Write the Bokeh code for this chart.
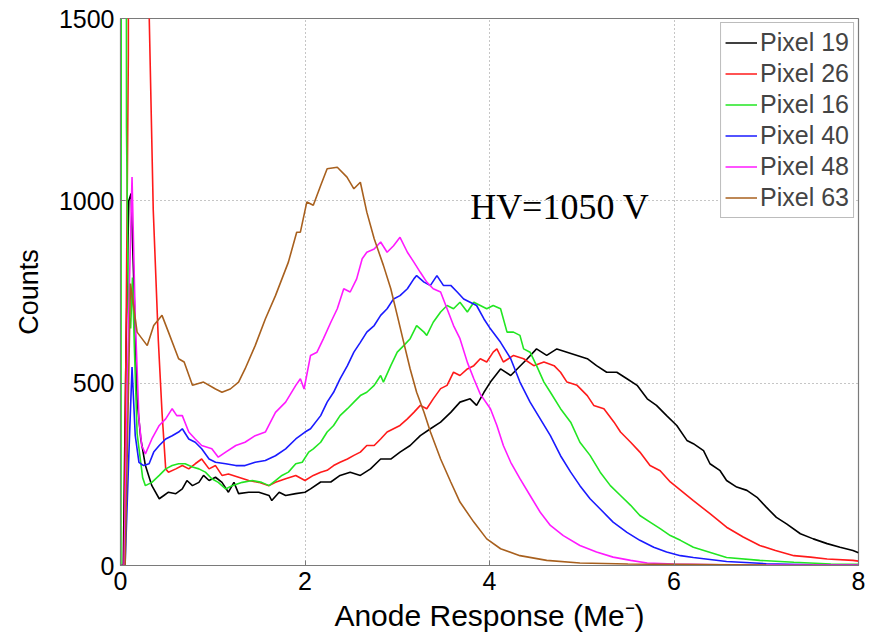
from bokeh.plotting import figure
from bokeh.models import Range1d, Label, FixedTicker, Legend, LegendItem
from bokeh.embed import file_html
from bokeh.resources import INLINE

# ---------------- data ----------------
series_names = ["Pixel 19", "Pixel 26", "Pixel 16", "Pixel 40", "Pixel 48", "Pixel 63"]
series_colors = ["#000000", "#ff1a1a", "#22e622", "#1a1aff", "#ff1aff", "#a8601e"]

px19_x = [0.0, 0.03, 0.06, 0.09, 0.115, 0.15, 0.18, 0.22, 0.27, 0.34, 0.42, 0.47, 0.52, 0.60, 0.67, 0.72,
          0.78, 0.85, 0.90, 0.96, 1.03, 1.10, 1.17, 1.23, 1.28, 1.39, 1.50, 1.61, 1.64, 1.72, 1.79, 1.90,
          2.00, 2.06, 2.17, 2.28, 2.38, 2.49, 2.60, 2.71, 2.82, 2.93, 3.03, 3.14, 3.25, 3.36, 3.47, 3.58,
          3.68, 3.79, 3.86, 3.94, 4.01, 4.12, 4.23, 4.30, 4.41, 4.51, 4.62, 4.73, 4.84, 4.95, 5.06, 5.16,
          5.27, 5.38, 5.49, 5.60, 5.71, 5.81, 5.92, 6.03, 6.14, 6.21, 6.32, 6.39, 6.50, 6.57, 6.68, 6.79,
          6.90, 7.00, 7.11, 7.22, 7.37, 7.51, 7.66, 7.80, 7.94, 8.0]
px19_y = [0, 0, 600, 1000, 1020, 727, 452, 347, 274, 219, 183, 192, 201, 197, 210, 233,
          219, 228, 247, 233, 242, 228, 201, 228, 197, 201, 201, 192, 178, 201, 192, 197,
          201, 210, 229, 229, 247, 256, 247, 265, 292, 292, 311, 329, 356, 375, 393, 420,
          448, 457, 439, 475, 503, 539, 521, 539, 567, 594, 576, 594, 585, 576, 567, 548,
          530, 530, 512, 494, 457, 439, 411, 384, 343, 334, 315, 279, 260, 233, 215, 206,
          187, 160, 132, 114, 87, 73, 60, 50, 41, 35]

px26_x = [0.0, 0.04, 0.085, 0.09, 0.20, 0.29, 0.31, 0.355, 0.41, 0.45, 0.49, 0.52, 0.60, 0.67, 0.74, 0.81,
          0.88, 0.96, 1.03, 1.10, 1.17, 1.28, 1.39, 1.50, 1.61, 1.68, 1.79, 1.90, 2.00, 2.09, 2.17, 2.24,
          2.31, 2.38, 2.46, 2.53, 2.60, 2.67, 2.75, 2.82, 2.89, 2.96, 3.03, 3.11, 3.18, 3.25, 3.32, 3.39,
          3.47, 3.54, 3.61, 3.68, 3.76, 3.83, 3.90, 3.97, 4.04, 4.08, 4.15, 4.26, 4.37, 4.48, 4.59, 4.70,
          4.77, 4.84, 4.95, 5.06, 5.13, 5.24, 5.35, 5.42, 5.53, 5.63, 5.74, 5.85, 5.96, 6.03, 6.21, 6.39,
          6.57, 6.75, 6.93, 7.10, 7.30, 7.48, 7.66, 7.94, 8.0]
px26_y = [0, 0, 1400, 3000, 4000, 2500, 1520, 975, 617, 420, 265, 256, 265, 274, 265, 279,
          292, 265, 274, 247, 251, 242, 233, 228, 219, 228, 238, 247, 233, 247, 256, 261,
          274, 283, 292, 302, 311, 329, 329, 347, 366, 375, 384, 402, 420, 439, 430, 457,
          485, 494, 530, 521, 539, 548, 567, 558, 585, 594, 558, 576, 567, 548, 558, 548,
          530, 503, 494, 466, 439, 430, 393, 366, 338, 311, 274, 260, 229, 215, 178, 142,
          105, 78, 55, 41, 27, 23, 18, 14, 12]

px16_x = [0.0, 0.005, 0.015, 0.055, 0.065, 0.085, 0.11, 0.13, 0.15, 0.18, 0.24, 0.27, 0.34, 0.42, 0.49, 0.56,
          0.63, 0.70, 0.78, 0.85, 0.92, 0.99, 1.06, 1.14, 1.21, 1.32, 1.43, 1.53, 1.61, 1.68, 1.75, 1.82,
          1.90, 1.97, 2.04, 2.09, 2.17, 2.24, 2.31, 2.38, 2.46, 2.53, 2.60, 2.67, 2.75, 2.82, 2.85, 2.93,
          3.00, 3.07, 3.14, 3.21, 3.29, 3.32, 3.39, 3.47, 3.54, 3.61, 3.68, 3.76, 3.83, 3.90, 3.97, 4.04,
          4.12, 4.19, 4.26, 4.33, 4.37, 4.44, 4.51, 4.59, 4.66, 4.77, 4.88, 4.98, 5.09, 5.20, 5.31, 5.42,
          5.53, 5.63, 5.74, 5.85, 5.96, 6.07, 6.21, 6.57, 6.93, 7.30, 7.70, 8.0]
px16_y = [0, 0, 5000, 5000, 1200, 700, 650, 790, 600, 362, 241, 219, 228, 247, 265, 274,
          279, 279, 270, 265, 256, 238, 228, 210, 219, 228, 233, 228, 219, 233, 247, 256,
          279, 283, 311, 320, 338, 366, 384, 411, 430, 448, 466, 475, 494, 521, 503, 548,
          585, 603, 622, 658, 640, 631, 667, 695, 713, 704, 722, 695, 722, 713, 704, 713,
          704, 640, 640, 631, 594, 585, 548, 503, 475, 430, 393, 338, 302, 256, 219, 192,
          165, 137, 119, 101, 82, 69, 50, 22, 14, 9, 4, 3]

px40_x = [0.0, 0.05, 0.09, 0.125, 0.16, 0.20, 0.25, 0.31, 0.36, 0.42, 0.49, 0.56, 0.63, 0.67, 0.74, 0.81,
          0.88, 0.96, 1.03, 1.14, 1.25, 1.35, 1.46, 1.57, 1.68, 1.79, 1.90, 2.00, 2.06, 2.17, 2.24, 2.31,
          2.38, 2.46, 2.53, 2.60, 2.67, 2.75, 2.82, 2.89, 2.96, 3.03, 3.11, 3.18, 3.21, 3.29, 3.36, 3.43,
          3.50, 3.58, 3.65, 3.72, 3.79, 3.86, 3.94, 4.01, 4.12, 4.23, 4.33, 4.44, 4.55, 4.66, 4.77, 4.88,
          4.98, 5.09, 5.20, 5.34, 5.49, 5.63, 5.78, 5.92, 6.07, 6.21, 6.57, 7.0, 7.5, 8.0]
px40_y = [0, 0, 300, 544, 356, 283, 274, 279, 311, 329, 347, 356, 366, 375, 347, 338,
          320, 292, 283, 279, 274, 274, 283, 288, 301, 320, 347, 366, 375, 411, 448, 475,
          512, 548, 585, 612, 640, 658, 686, 704, 731, 740, 759, 786, 795, 777, 768, 795,
          768, 768, 750, 731, 722, 713, 676, 649, 612, 567, 503, 448, 402, 356, 301, 256,
          219, 183, 155, 119, 91, 69, 50, 37, 27, 22, 11, 5, 2, 1]

px48_x = [0.0, 0.04, 0.09, 0.125, 0.16, 0.20, 0.23, 0.27, 0.34, 0.42, 0.49, 0.56, 0.61, 0.67, 0.74, 0.81,
          0.88, 0.99, 1.06, 1.14, 1.25, 1.35, 1.46, 1.57, 1.68, 1.79, 1.90, 1.95, 1.99, 2.06, 2.13, 2.20,
          2.28, 2.35, 2.42, 2.49, 2.56, 2.62, 2.67, 2.75, 2.82, 2.89, 2.96, 3.03, 3.11, 3.18, 3.25, 3.32,
          3.39, 3.47, 3.54, 3.61, 3.68, 3.76, 3.83, 3.90, 4.01, 4.08, 4.15, 4.23, 4.33, 4.44, 4.55, 4.66,
          4.80, 4.98, 5.16, 5.34, 5.53, 5.71, 6.0, 6.5, 7.0, 8.0]
px48_y = [0, 0, 700, 1065, 676, 402, 329, 306, 347, 384, 402, 430, 411, 411, 366, 347,
          329, 320, 297, 311, 329, 338, 356, 366, 420, 448, 494, 512, 484, 576, 585, 622,
          667, 704, 759, 750, 786, 841, 859, 868, 887, 859, 877, 900, 859, 832, 804, 777,
          759, 750, 704, 658, 622, 557, 512, 470, 430, 384, 329, 283, 238, 192, 146, 110,
          82, 55, 37, 23, 14, 7, 4, 2, 1, 1]

px63_x = [0.0, 0.05, 0.108, 0.18, 0.29, 0.36, 0.45, 0.52, 0.63, 0.69, 0.78, 0.90, 1.03, 1.10, 1.19, 1.28,
          1.35, 1.46, 1.57, 1.68, 1.82, 1.91, 1.95, 2.02, 2.09, 2.17, 2.24, 2.35, 2.455, 2.53, 2.60, 2.67,
          2.75, 2.85, 2.93, 3.00, 3.07, 3.14, 3.21, 3.29, 3.36, 3.47, 3.58, 3.68, 3.83, 3.97, 4.12, 4.33,
          4.62, 4.98, 5.5, 6.0, 7.0, 8.0]
px63_y = [0, 0, 773, 640, 603, 658, 686, 640, 567, 558, 494, 503, 484, 475, 484, 503,
          539, 603, 676, 740, 832, 914, 914, 997, 988, 1042, 1088, 1092, 1065, 1033, 1051, 969,
          896, 823, 759, 686, 612, 539, 475, 420, 366, 292, 229, 174, 119, 73, 46, 27,
          14, 7, 4, 3, 1, 0]

series_x = [px19_x, px26_x, px16_x, px40_x, px48_x, px63_x]
series_y = [px19_y, px26_y, px16_y, px40_y, px48_y, px63_y]

x_ticks = [0, 2, 4, 6, 8]
y_ticks = [0, 500, 1000, 1500]

# ---------------- figure ----------------
FONT = "Liberation Sans"
p = figure(frame_width=738, frame_height=547, output_backend="svg", toolbar_location=None,
           x_range=Range1d(0, 8), y_range=Range1d(0, 1500),
           min_border_left=120, min_border_right=11, min_border_top=18, min_border_bottom=60)
p.background_fill_color = "white"
p.border_fill_color = "white"
p.outline_line_color = "#7a7a7a"
p.outline_line_width = 1.2

for ax in (p.xaxis[0], p.yaxis[0]):
    ax.axis_line_color = "#7a7a7a"
    ax.major_tick_line_color = "#7a7a7a"
    ax.major_tick_in = 5
    ax.major_tick_out = 0
    ax.minor_tick_line_color = None
    ax.major_label_text_font = FONT
    ax.major_label_text_font_size = "25px"
    ax.major_label_text_color = "black"
    ax.axis_label_text_font = FONT
    ax.axis_label_text_font_style = "normal"
    ax.axis_label_text_color = "black"

p.xaxis.axis_label_text_font_size = "30px"
p.yaxis.axis_label_text_font_size = "27px"
p.xaxis.ticker = FixedTicker(ticks=x_ticks)
p.yaxis.ticker = FixedTicker(ticks=y_ticks)
p.xaxis.axis_label = "Anode Response (Me\u207b)"
p.yaxis.axis_label = "Counts"
p.xaxis.major_label_standoff = 6
p.yaxis.major_label_standoff = 6
p.xaxis.axis_label_standoff = 6
p.yaxis.axis_label_standoff = 12

p.grid.grid_line_color = "#8c8c8c"
p.grid.grid_line_dash = "1 3"
p.grid.grid_line_width = 1

items = []
for name, color, xs, ys in zip(series_names, series_colors, series_x, series_y):
    r = p.line(xs, ys, line_color=color, line_width=1.6)
    items.append(LegendItem(label=name, renderers=[r]))

legend = Legend(items=items, location="top_right")
legend.label_text_font = FONT
legend.label_text_font_size = "25px"
legend.label_height = 31
legend.glyph_height = 31
legend.glyph_width = 32
legend.label_standoff = 3
legend.spacing = 0
legend.padding = 4
legend.margin = 4
legend.border_line_color = "#7a7a7a"
legend.border_line_width = 1.2
legend.background_fill_alpha = 1.0
p.add_layout(legend)

p.add_layout(Label(x=3.79, y=984, text="HV=1050 V", text_font="Liberation Serif",
                   text_font_size="36px", text_color="black", text_baseline="alphabetic"))

open("out.html", "w").write(file_html(p, INLINE))
